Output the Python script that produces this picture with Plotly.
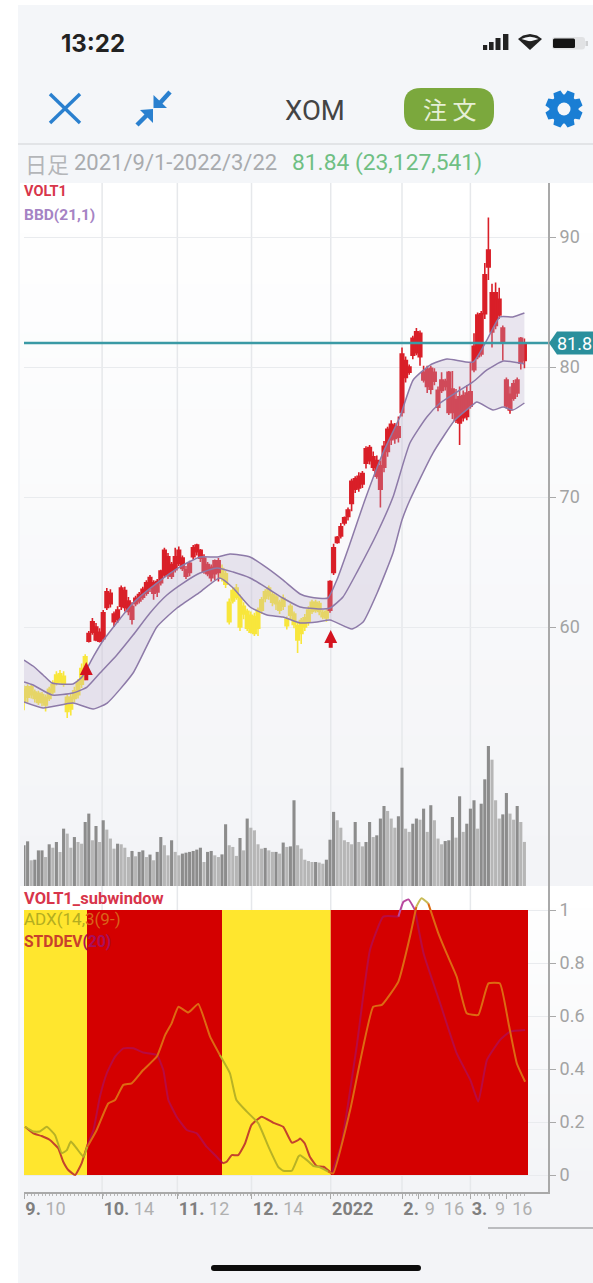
import plotly.graph_objects as go
import math

W, H = 593, 1283

# ---------- data ----------
day_open = [54.3,54.6,54.8,54.5,54.2,54.2,54.0,54.5,55.0,55.7,55.8,55.6,53.5,53.7,54.5,54.8,55.6,56.5,
 58.9,59.6,59.0,58.9,59.1,61.5,61.8,60.4,60.6,61.6,61.5,61.2,60.6,61.8,62.0,62.3,62.6,63.0,62.6,62.7,63.4,64.0,64.0,63.9,64.4,64.9,64.5,63.9,64.2,65.4,65.8,65.3,64.3,64.1,63.8,64.1,64.2,
 63.8,63.3,60.4,62.0,62.3,60.0,61.0,59.9,59.6,59.5,59.9,61.3,62.2,62.4,61.9,61.8,61.3,61.6,60.1,60.9,60.2,59.0,59.5,60.0,60.4,61.2,61.3,61.2,60.8,60.7,
 61.3,64.2,66.5,67.0,68.0,68.5,69.5,70.6,70.7,71.0,72.6,72.8,72.3,71.6,70.6,72.3,73.5,74.4,74.5,74.6,76.5,79.2,79.6,80.9,81.1,80.8,79.0,78.5,78.3,78.9,76.9,78.2,78.5,76.5,76.5,75.9,75.7,76.1,76.2,77.0,79.8,80.8,81.0,84.1,87.7,82.7,83.2,84.0,81.9,77.0,76.7,77.6,78.0,80.3,80.5]
day_close = [55.2,55.4,55.4,55.0,54.9,54.8,54.6,55.2,55.6,56.3,56.4,56.2,54.6,54.6,55.1,55.7,56.8,57.7,
 59.5,60.4,60.0,59.6,61.1,62.7,62.6,61.0,61.3,63.0,62.8,62.0,61.6,62.2,62.5,62.9,63.4,63.8,63.4,63.5,64.3,65.9,65.4,64.8,65.4,65.9,65.3,64.4,64.9,66.1,66.3,65.9,65.3,64.8,64.6,65.1,65.1,
 64.5,64.1,61.9,62.8,63.0,62.2,61.6,61.2,60.9,60.8,61.3,62.1,62.7,63.0,62.5,62.3,61.9,62.2,60.6,61.6,61.0,60.1,60.5,60.7,61.3,61.9,61.9,61.8,61.1,61.2,
 63.5,66.1,66.9,67.7,68.4,69.0,71.2,71.4,71.6,71.8,73.7,73.8,73.1,72.8,72.4,73.9,75.2,75.6,75.5,75.4,81.0,80.5,80.0,82.2,82.7,82.6,79.6,79.8,79.9,79.6,78.2,79.0,78.9,79.6,78.3,77.5,77.7,77.8,78.0,78.1,81.6,84.0,84.1,87.1,89.0,85.7,85.7,85.2,83.0,79.0,77.9,78.7,79.0,82.2,81.84]
day_high = [55.5,55.6,55.6,55.2,55.1,55.0,54.8,55.4,55.9,56.6,56.7,56.6,54.8,54.9,55.4,56.0,57.2,57.9,
 59.7,60.7,60.3,59.9,61.3,63.0,62.9,61.2,61.6,63.2,63.1,62.3,61.9,62.4,62.7,63.1,63.6,64.0,63.6,63.7,64.4,66.1,65.7,65.0,66.1,66.2,65.5,64.7,65.1,66.3,66.4,66.0,65.6,65.0,64.8,65.2,65.3,
 64.8,64.3,62.2,63.0,63.3,62.5,61.9,61.4,61.2,61.1,61.5,62.3,62.9,63.2,62.7,62.5,62.1,62.5,60.8,61.8,61.2,60.3,60.7,61.0,61.6,62.1,62.1,62.0,61.3,61.4,
 63.6,66.4,67.0,68.0,68.5,69.2,71.4,71.6,71.9,72.0,73.9,74.0,73.5,73.2,72.8,74.3,75.4,75.9,75.7,76.2,81.5,80.8,80.2,82.4,83.0,82.8,80.1,80.1,80.1,79.9,78.5,79.6,79.1,79.7,79.7,78.3,78.5,78.2,78.6,80.3,82.6,84.2,84.3,88.0,91.5,86.4,86.5,86.1,83.2,79.2,78.5,79.0,79.2,82.3,82.2]
day_low = [53.6,54.2,54.5,54.2,54.0,53.9,53.5,54.3,54.8,55.5,55.6,55.4,53.0,53.2,54.2,54.5,55.3,55.9,
 58.8,59.4,58.9,58.8,58.9,61.3,61.5,60.0,60.3,61.3,61.2,60.9,60.2,61.6,61.8,62.1,62.4,62.7,62.1,62.3,63.2,63.8,63.7,63.7,64.2,64.7,64.3,63.7,63.9,65.2,65.5,65.0,64.1,63.9,63.5,63.6,63.5,
 63.5,63.0,60.2,61.8,62.1,59.7,60.6,59.7,59.5,59.3,59.3,61.0,61.9,62.1,61.6,61.3,61.0,61.3,59.8,60.6,59.9,58.0,58.7,59.7,60.1,61.0,61.1,60.9,60.6,60.4,
 61.1,64.0,66.4,66.8,67.8,68.2,68.9,70.3,70.4,70.7,72.2,72.5,72.0,71.4,69.2,71.9,73.1,74.0,74.1,74.2,76.2,78.8,79.4,80.6,80.9,80.1,78.8,78.0,77.9,78.6,76.6,78.0,78.2,76.3,76.0,75.7,74.0,75.8,75.9,76.8,79.6,80.6,80.8,83.7,86.7,81.5,82.9,83.7,80.5,76.8,76.4,77.4,77.7,79.8,79.9]

# first day of each run of candle colour
yellow_runs = [(0, 18), (55, 85)]

volume = [21.35,23.45,13.5,13.8,18.7,18.7,15.2,21.9,20.1,23.1,17.85,30.1,27.5,20.1,25.7,23.1,22.2,33.6,38.0,24.0,
 31.5,23.1,34.5,29.6,24.9,19.6,22.2,21.9,20.1,15.2,18.4,15.6,17.9,18.7,15.2,16.5,13.5,17.9,25.7,21.4,
 16.1,24.0,17.9,16.1,17.0,17.5,17.9,18.4,19.1,20.1,12.6,17.9,18.4,16.1,15.2,16.6,32.4,21.4,20.5,15.8,
 25.2,18.7,35.4,30.6,29.2,21.9,19.6,20.0,18.7,17.9,17.9,17.0,22.8,20.5,20.8,45.0,21.4,
 19.6,13.8,13.1,12.6,12.6,12.3,11.7,13.8,24.3,38.9,34.5,30.6,24.0,23.1,21.9,33.6,23.1,20.8,23.1,33.6,25.7,26.6,
 35.4,42.0,39.4,35.4,30.6,36.6,62.1,30.1,28.4,32.7,35.4,34.8,40.6,28.4,42.4,34.5,24.9,21.9,23.6,24.0,36.2,25.4,
 47.1,28.4,32.7,40.6,45.0,30.1,43.2,56.0,73.5,66.3,45.0,35.4,37.6,48.8,38.0,34.8,42.0,33.6,23.13]

upper_day = [0,2.5,5.3,7.8,13.6,16.1,19.2,21.7,30.3,36.9,43.3,48.9,53.6,57.2,62.8,67.5,71.9,76.7,79.4,84.4,86.9,90.6,94.7,99.7,104.4,108.1,112.8,117.5,124.7,128.6,132.2,135.8,139]
upper_val = [57.46,57.0,56.31,55.69,55.62,56.15,57.69,58.85,61.85,63.38,64.62,65.38,65.38,65.62,65.38,64.54,63.62,62.54,62.31,62.23,63.62,66.46,69.77,73.38,76.15,79.0,80.15,80.62,80.38,82.08,83.85,83.85,84.15]
mid_day = [0,2.5,7.8,13.6,17.5,21.1,25.8,30.3,35,39.7,44.2,48.9,53.6,58.1,62.8,67.5,71.9,76.7,82.2,85,88.6,92.8,98.1,102.5,107.2,111.9,115.6,120.3,124.7,128.6,133.1,137.8,139]
mid_val = [55.77,55.54,54.77,54.92,55.38,56.46,57.85,59.38,61.08,62.46,63.38,64.15,64.54,64.23,63.77,63.0,62.23,61.54,61.38,61.46,62.31,64.38,67.23,70.0,74.15,76.15,77.23,78.08,78.85,79.77,80.46,80.31,80.23]
lower_day = [0,5.3,13.6,19.2,23.1,30.3,36.9,42.5,48.9,54.4,58.1,62.8,67.5,71.9,76.7,81.4,85,91.1,94.2,98.1,102.5,105,107.2,113.6,119.7,123.9,125.8,130.3,133.1,135.8,139]
lower_val = [54.23,53.77,54.15,53.69,54.15,56.46,60.0,61.46,62.69,63.77,63.0,61.54,60.92,60.77,60.31,60.38,60.54,59.85,60.38,62.62,65.69,68.23,69.77,73.38,75.92,76.92,77.31,76.69,76.92,76.69,77.23]

signal_day = [17.3, 85.2]
signal_tip = [57.3, 59.77]
signal_tail = [55.9, 58.4]
last_price = 81.84

regime_start = [0, 17.5, 55, 85.2]
regime_end = [17.5, 55, 85.2, 140]
regime_colour = ["#ffe62e", "#d40000", "#ffe62e", "#d40000"]

adx_day = [0.3,2.6,4.4,6.3,8.6,10.5,11.9,13,14.6,16.5,17.6,20.2,23.4,25.3,27.6,29.9,33.1,36.9,39.2,41,42.9,45.6,48.4,51.7,54.4,57.2,59,61.9,65.1,67.9,70.6,72,74.4,76.2,76.7,78.5,80.4,82.2,84.5,85.9,90.6,97,99.4,104,107.2,109,110.4,112.3,115.1,117.4,120.2,123,126.2,129,132.2,134.6,136.9,139.2]
adx_val = [.182,.164,.164,.182,.151,.082,.094,.126,.101,.069,.107,.170,.270,.283,.340,.346,.396,.447,.528,.572,.635,.613,.645,.522,.453,.384,.283,.239,.195,.107,.031,.016,.016,.069,.075,.057,.034,.029,.013,.006,.245,.635,.642,.730,.899,1.013,1.044,1.025,.912,.836,.748,.610,.604,.723,.723,.572,.421,.352]
std_day = [.3,2.6,4.9,7.2,9.5,10.9,12.3,14.2,16,17.6,19.3,21.1,23,25.3,27.6,30.4,33.1,36.9,38.7,40.1,42.4,45.2,48,50.7,53.5,55.2,56.3,57.7,59.5,61.4,63.2,66,69.3,72,74.4,76.2,76.7,78,79.4,81.3,83.2,85.5,88.2,92.4,96.1,99.8,104,105.4,106.8,108.6,111,115.6,120.2,124,126.2,128.6,132.2,135,139.2]
std_val = [.182,.157,.147,.132,.101,.050,.019,0,.044,.113,.170,.296,.384,.447,.478,.478,.462,.453,.396,.283,.220,.170,.157,.107,.069,.044,.050,.075,.075,.119,.189,.220,.197,.182,.122,.132,.138,.119,.069,.034,.031,.006,.119,.484,.849,.975,.975,1.031,1.040,1.0,.836,.648,.459,.358,.277,.434,.509,.541,.547]

grid_days = [21.7, 42.6, 63.2, 85.2, 105, 124]
tick_days = [0, 21.7, 42.6, 63.2, 85.2, 105, 109.7, 115, 124, 129.2, 134]
MON = '<span style="color:#7f7f7f"><b>%s</b></span>'
DAY = '<span style="color:#b0b0b0"> %s</span>'
tick_text = [MON % "9." + DAY % "10", MON % "10." + DAY % "14", MON % "11." + DAY % "12", MON % "12." + DAY % "14",
             MON % "2022", MON % "2.", DAY % "9", DAY % "16", MON % "3.", DAY % "9", DAY % "16"]
price_ticks = [60, 70, 80, 90]
sub_ticks = [0, 0.2, 0.4, 0.6, 0.8, 1]
sub_tick_text = ["0", "0.2", "0.4", "0.6", "0.8", "1"]

assert len(day_open) == len(day_close) == len(day_high) == len(day_low) == len(volume) == 140

# ---------- geometry helpers ----------
X = lambda p: p / W
Y = lambda p: 1 - p / H
PX_PER_DAY = 3.6
LEFT, RIGHT = 24, 548
XRANGE = [0, (RIGHT - LEFT) / PX_PER_DAY]

def path(pts, close=True):
    s = "M" + " L".join(f"{X(a):.5f},{Y(b):.5f}" for a, b in pts)
    return s + (" Z" if close else "")

def rrect(x0, y0, x1, y1, r):
    return (f"M{X(x0+r):.5f},{Y(y0):.5f} L{X(x1-r):.5f},{Y(y0):.5f} Q{X(x1):.5f},{Y(y0):.5f} {X(x1):.5f},{Y(y0+r):.5f} "
            f"L{X(x1):.5f},{Y(y1-r):.5f} Q{X(x1):.5f},{Y(y1):.5f} {X(x1-r):.5f},{Y(y1):.5f} "
            f"L{X(x0+r):.5f},{Y(y1):.5f} Q{X(x0):.5f},{Y(y1):.5f} {X(x0):.5f},{Y(y1-r):.5f} "
            f"L{X(x0):.5f},{Y(y0+r):.5f} Q{X(x0):.5f},{Y(y0):.5f} {X(x0+r):.5f},{Y(y0):.5f} Z")

def rect(x0, y0, x1, y1, color, layer="below"):
    return dict(type="rect", xref="paper", yref="paper", x0=X(x0), x1=X(x1), y0=Y(y0), y1=Y(y1),
                fillcolor=color, line_width=0, layer=layer)

def seg(x0, y0, x1, y1, color, w, layer="above"):
    return dict(type="line", xref="paper", yref="paper", x0=X(x0), x1=X(x1), y0=Y(y0), y1=Y(y1),
                line=dict(color=color, width=w), layer=layer)

def fill(p, color, layer="above"):
    return dict(type="path", xref="paper", yref="paper", path=p, fillcolor=color, line_width=0, layer=layer)

def mix(a, b, t):
    return "rgb(%d,%d,%d)" % tuple(round(a[k] + (b[k] - a[k]) * t) for k in range(3))

PAGE = "#f4f6f9"
shapes = [rect(18, 5, W, H, PAGE)]
# panel shading
STEPS = 28
for k in range(STEPS):
    t = k / (STEPS - 1)
    shapes.append(rect(20, 183 + (886 - 183) * k / STEPS, W, 886, mix((255, 255, 255), (243, 244, 247), t)))
for k in range(STEPS):
    t = k / (STEPS - 1)
    shapes.append(rect(20, 886 + (1192 - 886) * k / STEPS, W, 1192, mix((255, 255, 255), (243, 244, 247), t)))
shapes.append(rect(20, 1192, W, H, "#f3f4f7"))
# vertical grid
for d in grid_days:
    shapes.append(dict(type="line", xref="x", yref="paper", x0=d, x1=d, y0=Y(1192), y1=Y(183),
                       line=dict(color="#e6e8eb", width=1.5), layer="below"))
shapes.append(seg(18, 144, W, 144, "#dddee1", 1.5, "below"))

BLUE = "#2a80cf"
# close cross
shapes += [seg(50, 94, 80, 123, BLUE, 3.4), seg(80, 94, 50, 123, BLUE, 3.4)]
# compress arrows
shapes += [seg(137, 125, 147, 115, BLUE, 4.5), seg(170, 92, 160, 103, BLUE, 4.5),
           fill(path([(153, 109), (153, 123), (140, 110)]), BLUE),
           fill(path([(153.5, 108), (153.5, 95), (167, 108)]), BLUE)]
# gear
gx, gy = 564, 109
for k in range(8):
    a = math.pi / 8 + k * math.pi / 4
    ca, sa = math.cos(a), math.sin(a)
    shapes.append(fill(path([(gx + ca*11 - sa*5.5, gy + sa*11 + ca*5.5), (gx + ca*18.5 - sa*3.8, gy + sa*18.5 + ca*3.8),
                             (gx + ca*18.5 + sa*3.8, gy + sa*18.5 - ca*3.8), (gx + ca*11 + sa*5.5, gy + sa*11 - ca*5.5)]), "#1a7ed4"))
shapes.append(dict(type="circle", xref="paper", yref="paper", x0=X(gx-14.5), x1=X(gx+14.5), y0=Y(gy+14.5), y1=Y(gy-14.5), fillcolor="#1a7ed4", line_width=0))
shapes.append(dict(type="circle", xref="paper", yref="paper", x0=X(gx-6.5), x1=X(gx+6.5), y0=Y(gy+6.5), y1=Y(gy-6.5), fillcolor=PAGE, line_width=0))
# order button
shapes.append(fill(rrect(404, 88, 494, 130, 17), "#7ba83d"))
# status bar
for a, top, bw in zip([483, 489, 495.5, 503], [45, 42, 38, 34], [4.2, 4.6, 5, 5.4]):
    shapes.append(rect(a, top, a + bw, 50, "#222222", "above"))
shapes.append(fill(path([(530, 50), (518, 39), (523, 35.5), (530, 34), (537, 35.5), (542, 39)]), "#222222"))
shapes.append(fill(path([(530, 41.6), (521.5, 39), (525.5, 37.4), (530, 36.8), (534.5, 37.4), (538.5, 39)]), PAGE))
shapes.append(fill(path([(530, 44.8), (524.8, 43.6), (527, 41.6), (530, 41.2), (533, 41.6), (535.2, 43.6)]), "#222222"))
shapes.append(fill(rrect(552, 37, 585, 49.5, 3), "#e1e2e4"))
shapes.append(fill(rrect(553, 38.5, 575, 48, 1.5), "#141414"))
shapes.append(rect(585.5, 41, 588, 46, "#cfd0d2", "above"))
# home indicator and stray rule
shapes.append(fill(rrect(211, 1265, 421, 1271, 3), "#0c0c0c"))
shapes.append(seg(488, 1228, W, 1228, "#a9aaad", 1.5))
# price tag
TEAL = "#2a8f9c"
py = 627 - (last_price - 60) * 13
shapes.append(fill(path([(549, py), (557, py - 11.5), (W + 2, py - 11.5), (W + 2, py + 11.5), (557, py + 11.5)]), TEAL))
# left paper margin
shapes.append(rect(0, 0, 18, H, "#ffffff"))
shapes.append(rect(0, 0, W, 5, "#ffffff"))

# ---------- traces ----------
fig = go.Figure()
BAND = "#8d7aa8"

fig.add_trace(go.Scatter(x=upper_day, y=upper_val, xaxis="x2", yaxis="y", mode="lines",
                         line=dict(color=BAND, width=1.5, shape="spline", smoothing=0.5)))
fig.add_trace(go.Scatter(x=lower_day, y=lower_val, xaxis="x2", yaxis="y", mode="lines", fill="tonexty",
                         fillcolor="rgba(190,175,205,0.30)", line=dict(color=BAND, width=1.5, shape="spline", smoothing=0.5)))
fig.add_trace(go.Scatter(x=mid_day, y=mid_val, xaxis="x2", yaxis="y", mode="lines",
                         line=dict(color=BAND, width=1.5, shape="spline", smoothing=0.5)))

days = list(range(len(day_open)))
is_yellow = [any(a <= d < b for a, b in yellow_runs) for d in days]

def candles(mask, color):
    idx = [d for d in days if mask(d)]
    fig.add_trace(go.Candlestick(
        x=idx, open=[day_open[d] for d in idx], high=[day_high[d] for d in idx],
        low=[day_low[d] for d in idx], close=[day_close[d] for d in idx],
        xaxis="x2", yaxis="y", whiskerwidth=0,
        increasing=dict(line=dict(color=color, width=1.6), fillcolor=color),
        decreasing=dict(line=dict(color=color, width=1.6), fillcolor=color)))

candles(lambda d: is_yellow[d], "#f8e63c")
candles(lambda d: not is_yellow[d], "#d91f28")

# last price
fig.add_trace(go.Scatter(x=XRANGE, y=[last_price, last_price], xaxis="x2", yaxis="y", mode="lines",
                         line=dict(color="#3a9aa5", width=2.5)))

# signals
for d, tip, tail in zip(signal_day, signal_tip, signal_tail):
    fig.add_trace(go.Scatter(x=[d, d], y=[tip - 0.4, tail], xaxis="x2", yaxis="y", mode="lines",
                             line=dict(color="#d4131f", width=4)))
fig.add_trace(go.Scatter(x=signal_day, y=signal_tip, xaxis="x2", yaxis="y", mode="markers",
                         marker=dict(symbol="arrow-up", size=13, color="#d4131f", line_width=0)))

# volume
vol_colors = ["#8c8c8c" if d == 0 or volume[d] >= volume[d - 1] else "#b6b6b6" for d in days]
fig.add_trace(go.Bar(x=days, y=volume, width=0.86, xaxis="x2", yaxis="y2", marker=dict(color=vol_colors, line_width=0)))

# regime blocks
fig.add_trace(go.Bar(x=[(a + b) / 2 for a, b in zip(regime_start, regime_end)],
                     width=[b - a for a, b in zip(regime_start, regime_end)],
                     y=[1] * len(regime_start), xaxis="x", yaxis="y3",
                     marker=dict(color=regime_colour, line_width=0)))

def zone_of(x, y):
    if y > 1:
        return "white"
    for a, b, c in zip(regime_start, regime_end, regime_colour):
        if a <= x < b:
            return "yellow" if c == "#ffe62e" else "red"
    return "red"

def zoned_line(xs, ys, colors):
    start = 0
    cur = None
    for k in range(len(xs) - 1):
        z = zone_of((xs[k] + xs[k + 1]) / 2, (ys[k] + ys[k + 1]) / 2)
        if cur is None:
            cur = z
        if z != cur:
            fig.add_trace(go.Scatter(x=xs[start:k + 1], y=ys[start:k + 1], xaxis="x", yaxis="y3", mode="lines",
                                     cliponaxis=False, line=dict(color=colors[cur], width=2, shape="spline", smoothing=0.4)))
            start, cur = k, z
    fig.add_trace(go.Scatter(x=xs[start:], y=ys[start:], xaxis="x", yaxis="y3", mode="lines",
                             cliponaxis=False, line=dict(color=colors[cur], width=2, shape="spline", smoothing=0.4)))

zoned_line(std_day, std_val, dict(yellow="#c4432c", red="#b80a42", white="#b8489e"))
zoned_line(adx_day, adx_val, dict(yellow="#b8b225", red="#dd6a12", white="#c8bb55"))

# ---------- annotations ----------
def note(px, py, text, size, color, family="Roboto", anchor="left"):
    return dict(xref="paper", yref="paper", x=X(px), y=Y(py), text=text, showarrow=False, xanchor=anchor, yanchor="middle",
                font=dict(size=size, color=color, family=family), align="left", borderpad=0)

CJK = "Noto Sans CJK JP"
annots = [
    note(60, 43, "<b>13:22</b>", 24, "#222222", "Inter"),
    note(315, 110, "XOM", 27.5, "#444444", "Roboto", "center"),
    note(449, 109, "注 文", 24, "#e6efd6", CJK, "center"),
    note(24, 163, "日足", 22, "#b4b6b9", CJK),
    note(73, 163, "2021/9/1-2022/3/22", 22, "#a9abae", "Roboto"),
    note(291, 163, "81.84 (23,127,541)", 22.8, "#6fbf83", "Roboto"),
    note(23, 192, "<b>VOLT1</b>", 14.5, "#d8354a", "Roboto"),
    note(23, 215, "<b>BBD(21,1)</b>", 15.5, "#a583c4", "Roboto"),
    note(23, 898, "<b>VOLT1_subwindow</b>", 16.5, "#d8354a", "Roboto"),
    note(23, 919, '<span style="color:#b3ad20">ADX(14,</span><span style="color:#d9641a">3(9-)</span>', 17, "#b3ad20", "Roboto"),
    note(23, 942, '<b><span style="color:#c8402c">STDDEV</span><span style="color:#a80f5c">(20)</span></b>', 15.6, "#c8402c", "Roboto"),
    note(556, py, "81.8", 18, "#ffffff", "Roboto"),
]

# ---------- layout ----------
TICKFONT = dict(family="Roboto", size=18, color="#a3a3a3")
fig.update_layout(
    width=W, height=H, margin=dict(l=0, r=0, t=0, b=0, pad=0, autoexpand=False), autosize=False,
    paper_bgcolor="#ffffff", plot_bgcolor="rgba(0,0,0,0)", showlegend=False, hovermode=False,
    barmode="overlay", boxgap=0.02, boxgroupgap=0, shapes=shapes, annotations=annots,
    xaxis=dict(domain=[X(LEFT), X(RIGHT)], range=XRANGE, anchor="y3", side="bottom", showgrid=False, zeroline=False,
               showline=True, linecolor="#a9a9a9", linewidth=1.5,
               tickmode="array", tickvals=tick_days, ticktext=tick_text, ticks="outside", ticklen=5, tickwidth=1.2,
               tickcolor="#a9a9a9", ticklabelposition="outside right", tickangle=0,
               tickfont=dict(family="Roboto", size=18, color="#8f8f8f"),
               minor=dict(tickmode="array", tickvals=days, ticks="outside", ticklen=2, tickwidth=0.8, tickcolor="#b8b8b8", showgrid=False)),
    xaxis2=dict(domain=[X(LEFT), X(RIGHT)], range=XRANGE, anchor="y", matches="x", visible=False, rangeslider=dict(visible=False)),
    yaxis=dict(domain=[Y(886), Y(183)], range=[60 + (627 - 886) / 13, 60 + (627 - 183) / 13], anchor="x2", side="right",
               showline=True, linecolor="#a9a9a9", linewidth=2, zeroline=False, showgrid=True, gridcolor="#e9ebee", gridwidth=1.2,
               tickmode="array", tickvals=price_ticks, ticktext=[str(v) for v in price_ticks],
               ticks="outside", ticklen=6, tickwidth=1.2, tickcolor="#a9a9a9", tickfont=TICKFONT),
    yaxis2=dict(domain=[Y(886), Y(183)], range=[0, 369], anchor="x2", overlaying="y", side="left", visible=False),
    yaxis3=dict(domain=[Y(1192), Y(886)], range=[-17 / 265, 1 + 24 / 265], anchor="x", side="right",
                showline=True, linecolor="#a9a9a9", linewidth=2, zeroline=False, showgrid=True, gridcolor="#e9ebee", gridwidth=1.2,
                tickmode="array", tickvals=sub_ticks, ticktext=sub_tick_text,
                ticks="outside", ticklen=6, tickwidth=1.2, tickcolor="#a9a9a9", tickfont=TICKFONT),
)

fig.write_html("out.html", config=dict(displayModeBar=False),
               post_script="document.body.style.margin='0';document.documentElement.style.overflow='hidden';")
